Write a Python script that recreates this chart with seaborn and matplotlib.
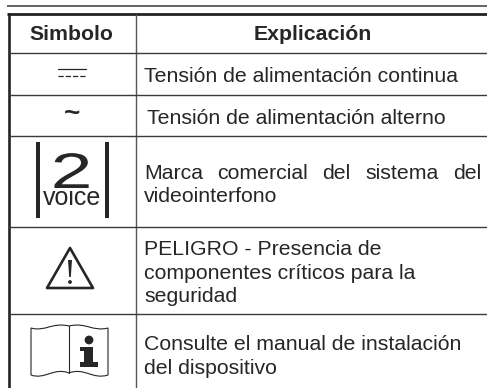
import matplotlib
matplotlib.use("Agg")
import matplotlib.pyplot as plt
import seaborn as sns
from matplotlib.patches import PathPatch, Polygon, Circle, Rectangle
from matplotlib.path import Path
from matplotlib.patheffects import AbstractPathEffect
from matplotlib.transforms import Affine2D

INK = "#262626"
LINE = "#3a3a3a"

headers = ["Simbolo", "Explicación"]
row_lines = [
    ["Tensión de alimentación continua"],
    ["Tensión de alimentación alterno"],
    ["Marca comercial del sistema del", "videointerfono"],
    ["PELIGRO - Presencia de", "componentes críticos para la", "seguridad"],
    ["Consulte el manual de instalación", "del dispositivo"],
]
row_edges = [52.5, 94.5, 136, 227, 314]
row_baselines = [[82], [124], [179, 202], [255, 279, 302], [350, 374]]
row_x = [144, 147, 144, 144, 144]


class StretchX(AbstractPathEffect):
    # the logo's "2" is much wider than any installed digit
    def __init__(self, cx, sx):
        super().__init__()
        self.cx = cx
        self.sx = sx

    def draw_path(self, renderer, gc, tpath, affine, rgbFace=None):
        stretch = Affine2D().translate(-self.cx, 0).scale(self.sx, 1).translate(self.cx, 0)
        renderer.draw_path(gc, tpath, affine + stretch, rgbFace)


def justified(ax, words, y, x0, x1, size):
    # spread the words to fill the column width, like the printed manual
    r = ax.figure.canvas.get_renderer()
    items = [ax.text(x0, y, w, fontsize=size, color=INK, va="baseline") for w in words]
    widths = [t.get_window_extent(r).width for t in items]
    gap = (x1 - x0 - sum(widths)) / (len(words) - 1)
    x = x0
    for t, w in zip(items, widths):
        t.set_x(x)
        x += w + gap


def draw_dc(ax):
    ax.plot([58, 86], [68.5, 68.5], color=INK, lw=0.9)
    ax.plot([58, 86], [76, 76], color=INK, lw=0.9, dashes=(4.2, 1.6))


def draw_voice(ax):
    for x in (36, 105):
        ax.add_patch(Rectangle((x, 142), 3.8, 76, color=INK, lw=0))
    two = ax.text(71.5, 188, "2", fontsize=36, color=INK, ha="center", va="baseline")
    two.set_path_effects([StretchX(71.5, 1.5)])
    ax.text(72, 205, "voice", fontsize=18, color=INK, ha="center", va="baseline")


def draw_warning(ax):
    ax.add_patch(Polygon([(70, 248), (47, 288), (93, 288)], closed=True, fill=False,
                         ec=INK, lw=1.9, joinstyle="round"))
    ax.add_patch(Polygon([(68, 260), (72, 260), (70.8, 277), (69.2, 277)],
                         closed=True, color=INK, lw=0))
    ax.add_patch(Circle((70, 282), 1.9, color=INK, lw=0))


def draw_book(ax):
    top = [(31, 328), (45, 332), (52, 322), (69, 326), (86, 322), (93, 332), (108, 328)]
    bottom = [(108, 375), (93, 380), (84, 367), (69, 373), (54, 367), (45, 380), (31, 375)]
    verts = top + bottom + [top[0]]
    curve = [Path.CURVE4] * 6
    codes = [Path.MOVETO] + curve + [Path.LINETO] + curve + [Path.CLOSEPOLY]
    ax.add_patch(PathPatch(Path(verts, codes), fill=False, ec=INK, lw=0.8))
    ax.plot([69, 69], [326, 373], color=INK, lw=0.8)
    ax.add_patch(Circle((89, 340), 4.4, color=INK, lw=0))
    ax.add_patch(Rectangle((80, 347), 13, 4, color=INK, lw=0))
    ax.add_patch(Rectangle((84, 347), 9, 17, color=INK, lw=0))
    ax.add_patch(Rectangle((80, 362), 18, 4.5, color=INK, lw=0))


def main():
    sns.set_theme(style="white")
    plt.rcParams["font.family"] = ["Liberation Sans", "DejaVu Sans"]

    fig = plt.figure(figsize=(4.87, 3.88), dpi=100)
    ax = fig.add_axes([0, 0, 1, 1])
    ax.set_xlim(0, 487)
    ax.set_ylim(388, 0)
    ax.axis("off")
    fig.canvas.draw()

    # rules of the table
    ax.hlines(6, 7, 487, color=LINE, lw=1.1)
    ax.hlines(13.5, 7, 487, color="#222222", lw=2.0)
    ax.vlines(8.5, 13, 388, color="#222222", lw=1.9)
    ax.vlines(135.5, 14, 388, color="#555555", lw=1.0)
    ax.hlines(row_edges, 8, 487, color=LINE, lw=1.0)

    size = 15.3
    ax.text(71.5, 35, headers[0], fontsize=size, fontweight="bold", color=INK,
            ha="center", va="center")
    ax.text(313, 35, headers[1], fontsize=size, fontweight="bold", color=INK,
            ha="center", va="center")

    for lines, ys, x in zip(row_lines, row_baselines, row_x):
        for line, y in zip(lines, ys):
            if line.startswith("Marca"):
                justified(ax, line.split(), y, x, 481, size)
            else:
                ax.text(x, y, line, fontsize=size, color=INK, va="baseline")

    draw_dc(ax)
    ax.text(72, 114, "~", fontsize=20, fontweight="bold", color=INK, ha="center", va="center")
    draw_voice(ax)
    draw_warning(ax)
    draw_book(ax)

    fig.savefig("out.png", dpi=100, facecolor="white")


if __name__ == "__main__":
    main()
